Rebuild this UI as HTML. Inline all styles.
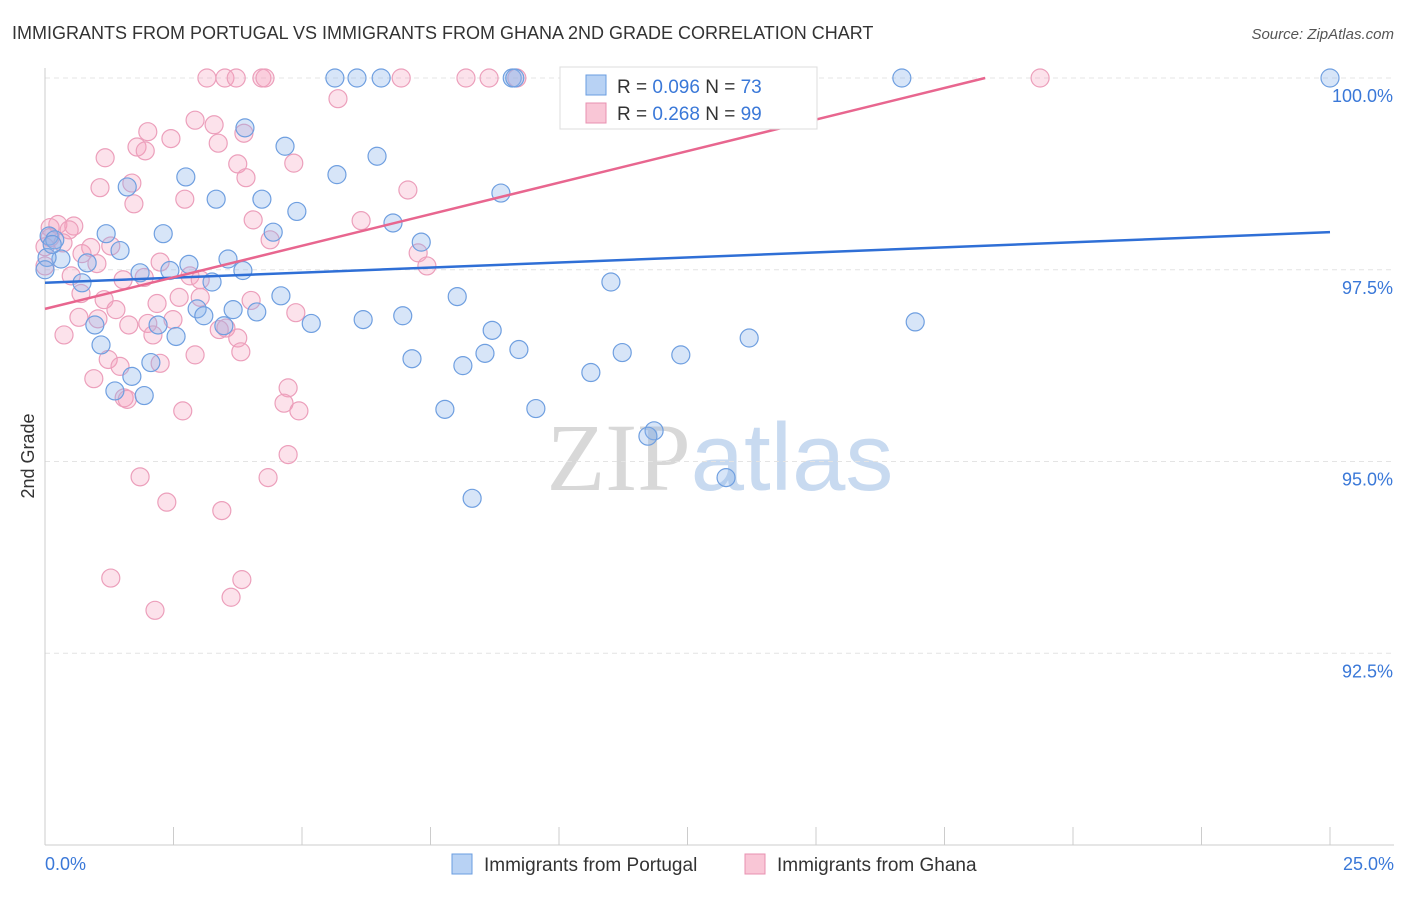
<!DOCTYPE html>
<html><head><meta charset="utf-8"><style>
body{margin:0;background:#fff;font-family:"Liberation Sans",sans-serif;}
svg text{font-family:"Liberation Sans",sans-serif;}
</style></head><body>
<svg id="chart" width="1406" height="892" xmlns="http://www.w3.org/2000/svg">
<text x="12" y="39" font-size="18" fill="#333">IMMIGRANTS FROM PORTUGAL VS IMMIGRANTS FROM GHANA 2ND GRADE CORRELATION CHART</text>
<text x="1394" y="39" font-size="15" fill="#555" font-style="italic" text-anchor="end">Source: ZipAtlas.com</text>
<text x="720" y="490" font-size="96" fill="#ddd" text-anchor="middle"><tspan font-family="Liberation Serif" fill="#d8d8d8">ZIP</tspan><tspan fill="#c8daf0">atlas</tspan></text>
<g id="grid"></g>
<g id="axes"></g>
<g id="pts"></g>
<g id="trends"></g>
<text x="34" y="456" font-size="18" fill="#333" text-anchor="middle" transform="rotate(-90 34 456)">2nd Grade</text>
<g>
<rect x="560" y="67" width="257" height="62" fill="#fff" stroke="#ddd"/>
<rect x="586" y="75" width="20" height="20" fill="#b8d2f4" stroke="#6a9de0"/>
<rect x="586" y="103" width="20" height="20" fill="#f9c6d6" stroke="#e890b0"/>
<text x="617" y="93" font-size="19" fill="#333">R = <tspan fill="#3a78d8">0.096</tspan>   N = <tspan fill="#3a78d8">73</tspan></text>
<text x="617" y="120" font-size="19" fill="#333">R = <tspan fill="#3a78d8">0.268</tspan>   N = <tspan fill="#3a78d8">99</tspan></text>
</g>
<g>
<rect x="452" y="854" width="20" height="20" fill="#b8d2f4" stroke="#6a9de0"/>
<text x="484" y="871" font-size="19" fill="#333">Immigrants from Portugal</text>
<rect x="745" y="854" width="20" height="20" fill="#f9c6d6" stroke="#e890b0"/>
<text x="777" y="871" font-size="19" fill="#333">Immigrants from Ghana</text>
</g>
</svg>
<script>
const xTicks=[0,2.5,5,7.5,10,12.5,15,17.5,20,22.5,25];
const yTicks=[92.5,95,97.5,100];
const yTickLabels=["92.5%","95.0%","97.5%","100.0%"];
const blueX=[5.64,6.07,6.54,9.09,9.14,16.67,25.0,3.89,4.67,6.46,2.74,5.68,1.60,3.33,4.22,4.90,8.87,6.77,1.19,2.30,4.44,7.32,0.08,0.19,1.46,3.56,0.31,0.82,2.80,1.85,2.43,3.85,3.25,0.72,4.59,8.02,11.01,2.96,3.66,4.12,3.09,6.96,6.19,5.18,0.97,2.20,3.48,8.70,2.55,16.93,13.70,1.09,9.22,8.56,11.23,12.37,7.14,8.13,2.06,10.62,1.69,1.36,1.93,7.78,9.55,11.85,11.73,13.25,8.31,0.04,0.14,13.9,0.0];
const blueY=[100,100,100,100,100,100,100,99.35,99.11,98.98,98.71,98.74,98.58,98.42,98.42,98.26,98.50,98.11,97.97,97.97,97.99,97.86,97.94,97.89,97.75,97.64,97.64,97.59,97.57,97.46,97.49,97.49,97.34,97.33,97.16,97.15,97.34,96.99,96.98,96.95,96.90,96.90,96.85,96.80,96.78,96.78,96.77,96.71,96.63,96.82,96.61,96.52,96.46,96.41,96.42,96.39,96.34,96.25,96.29,96.16,96.11,95.92,95.86,95.68,95.69,95.40,95.33,94.79,94.52,97.66,97.83,100,97.5];
const pinkX=[3.15,3.50,3.72,4.22,4.28,6.93,8.19,8.64,9.18,19.36,5.70,2.92,2.00,3.29,3.87,2.45,3.37,1.79,1.95,1.17,3.75,4.84,3.91,1.69,1.07,7.06,2.72,1.73,4.05,6.15,0.25,0.56,0.10,0.47,4.38,0.10,0.35,0.89,1.28,7.26,0.72,1.01,7.43,2.24,2.82,0.51,1.52,1.93,3.02,0.70,2.61,1.15,2.18,4.01,3.02,1.38,4.88,0.66,1.03,2.49,1.63,2.00,3.52,2.10,0.37,3.75,3.39,3.81,2.92,1.23,1.46,2.24,0.95,4.73,1.54,1.60,4.65,2.68,4.94,4.73,1.85,4.34,2.37,3.44,1.28,3.83,3.62,2.14,0.0,0.0];
const pinkY=[100,100,100,100,100,100,100,100,100,100,99.73,99.45,99.30,99.39,99.28,99.21,99.15,99.10,99.05,98.96,98.88,98.89,98.70,98.63,98.57,98.54,98.42,98.36,98.15,98.14,98.09,98.07,98.05,98.02,97.89,97.92,97.85,97.79,97.81,97.72,97.71,97.58,97.55,97.60,97.42,97.42,97.37,97.40,97.37,97.19,97.14,97.11,97.06,97.10,97.14,96.98,96.94,96.88,96.86,96.85,96.78,96.80,96.74,96.65,96.65,96.61,96.72,96.43,96.39,96.33,96.24,96.28,96.08,95.96,95.83,95.81,95.76,95.66,95.66,95.09,94.80,94.79,94.47,94.36,93.48,93.46,93.23,93.06,97.55,97.8];
const blueTrend=[97.33,97.99];   // y at x=0 and x=25
const pinkTrend=[96.99,100];     // y at x=0 and x=pinkTrendEnd
const pinkTrendEnd=[18.29];

const NS="http://www.w3.org/2000/svg";
const X0=45,X1=1330,YT=78,YB=845;
const sx=v=>X0+(v/25)*(X1-X0);
const sy=v=>YT+(100-v)/10*(YB-YT);
function mk(tag,attrs,parent){const e=document.createElementNS(NS,tag);for(const k in attrs)e.setAttribute(k,attrs[k]);parent.appendChild(e);return e;}
const grid=document.getElementById('grid'),axes=document.getElementById('axes');
yTicks.forEach((t,i)=>{
  const l=mk('line',{x1:X0,x2:1394,y1:sy(t),y2:sy(t),stroke:'#e4e4e4','stroke-dasharray':'5,4'},grid);
  
  
  const tx=mk('text',{x:1393,y:sy(t)+24,'font-size':18,fill:'#3a78d8','text-anchor':'end'},axes);
  tx.textContent=yTickLabels[i];
  
  
});
const yax=mk('line',{x1:X0,x2:X0,y1:68,y2:YB,stroke:'#ccc'},axes);


const xax=mk('line',{x1:X0,x2:1394,y1:YB,y2:YB,stroke:'#ccc'},axes);


xTicks.forEach(t=>{
  const l=mk('line',{x1:sx(t),x2:sx(t),y1:YB-18,y2:YB,stroke:'#ccc'},axes);
  
  
});
const xl0=mk('text',{x:45,y:870,'font-size':18,fill:'#3a78d8'},axes);xl0.textContent='0.0%';


const xl1=mk('text',{x:1394,y:870,'font-size':18,fill:'#3a78d8','text-anchor':'end'},axes);xl1.textContent='25.0%';


const pts=document.getElementById('pts');
pinkX.forEach((x,i)=>{
  const c=mk('circle',{cx:sx(x),cy:sy(pinkY[i]),r:9,fill:'rgba(244,160,190,0.3)',stroke:'#ec9fbb','stroke-width':1.2},pts);
  
  
});
blueX.forEach((x,i)=>{
  const c=mk('circle',{cx:sx(x),cy:sy(blueY[i]),r:9,fill:'rgba(140,180,235,0.35)',stroke:'#6f9fe0','stroke-width':1.2},pts);
  
  
});
const tr=document.getElementById('trends');
const bl=mk('line',{x1:sx(0),y1:sy(blueTrend[0]),x2:sx(25),y2:sy(blueTrend[1]),stroke:'#2f6fd6','stroke-width':2.5},tr);


const pl=mk('line',{x1:sx(0),y1:sy(pinkTrend[0]),x2:sx(pinkTrendEnd[0]),y2:sy(pinkTrend[1]),stroke:'#e8668f','stroke-width':2.5},tr);


</script>
</body></html>
